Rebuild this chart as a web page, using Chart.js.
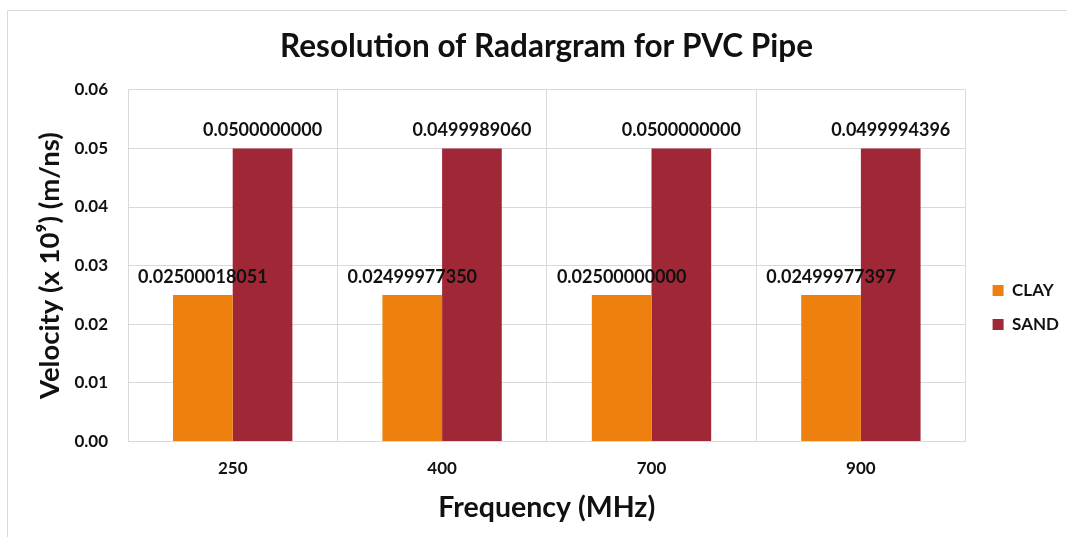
<!DOCTYPE html>
<html>
<head>
<meta charset="utf-8">
<script src="https://cdn.jsdelivr.net/npm/chart.js@4/dist/chart.umd.min.js"></script>
<style>
html,body{margin:0;padding:0;background:#fff;}
#wrap{position:relative;width:1067px;height:537px;}
</style>
</head>
<body>
<div id="wrap"><canvas id="c" width="1067" height="537"></canvas></div>
<script>
const categories = ['250', '400', '700', '900'];
const clayValues = [0.02500018051, 0.02499977350, 0.02500000000, 0.02499977397];
const sandValues = [0.0500000000, 0.0499989060, 0.0500000000, 0.0499994396];
const clayDecimals = 11;
const sandDecimals = 10;
const yTicks = [0, 0.01, 0.02, 0.03, 0.04, 0.05, 0.06];

const FONT = 'Lato, "Open Sans", sans-serif';

const borderPlugin = {
  id: 'frame',
  beforeDraw(chart) {
    const ctx = chart.ctx;
    ctx.save();
    ctx.fillStyle = '#fff';
    ctx.fillRect(0, 0, chart.width, chart.height);
    ctx.strokeStyle = '#d9d9d9';
    ctx.lineWidth = 1;
    ctx.beginPath();
    ctx.moveTo(7.5, chart.height);
    ctx.lineTo(7.5, 10.5);
    ctx.lineTo(chart.width, 10.5);
    ctx.stroke();
    ctx.restore();
  }
};

const legendShift = {
  id: 'legendShift',
  afterLayout(chart) {
    const lg = chart.legend;
    if (lg) { lg.left += 10; lg.right += 10; }
  }
};

const labelPlugin = {
  id: 'valueLabels',
  afterDatasetsDraw(chart) {
    const ctx = chart.ctx;
    ctx.save();
    ctx.font = 'bold 18px ' + FONT;
    ctx.fillStyle = '#111';
    ctx.textAlign = 'center';
    ctx.textBaseline = 'alphabetic';
    chart.data.datasets.forEach((ds, i) => {
      const meta = chart.getDatasetMeta(i);
      meta.data.forEach((bar, j) => {
        ctx.fillText(ds.data[j].toFixed(ds.decimals), bar.x, bar.y - 12);
      });
    });
    ctx.restore();
  }
};

new Chart(document.getElementById('c'), {
  type: 'bar',
  data: {
    labels: categories,
    datasets: [
      { label: 'CLAY', data: clayValues, decimals: clayDecimals, backgroundColor: '#ee800f', borderWidth: 0 },
      { label: 'SAND', data: sandValues, decimals: sandDecimals, backgroundColor: '#a02736', borderWidth: 0 }
    ]
  },
  options: {
    responsive: false,
    animation: false,
    devicePixelRatio: 1,
    layout: { padding: { top: 28, left: 34, right: 8, bottom: 12 } },
    datasets: { bar: { categoryPercentage: 0.57, barPercentage: 1.0 } },
    plugins: {
      title: {
        display: true,
        text: 'Resolution of Radargram for PVC Pipe',
        font: { family: FONT, size: 31.5, weight: 'bold' },
        color: '#111',
        padding: { top: 0, bottom: 24 }
      },
      legend: {
        position: 'right',
        labels: {
          font: { family: FONT, size: 17, weight: 'bold' },
          color: '#111',
          boxWidth: 11,
          boxHeight: 11,
          padding: 17
        },
        title: { display: true, text: ' ', font: { size: 10 }, padding: { top: 50, bottom: 0 } }
      },
      tooltip: { enabled: false }
    },
    scales: {
      x: {
        grid: { color: '#d9d9d9', offset: true, drawTicks: false },
        border: { color: '#d9d9d9' },
        ticks: { font: { family: FONT, size: 17, weight: 'bold' }, color: '#111', padding: 17 },
        title: {
          display: true,
          text: 'Frequency (MHz)',
          font: { family: FONT, size: 28.5, weight: 'bold' },
          color: '#111',
          padding: { top: -5, bottom: 0 }
        }
      },
      y: {
        min: 0,
        max: 0.06,
        afterBuildTicks(axis) { axis.ticks = yTicks.map(v => ({ value: v })); },
        afterFit(axis) { axis.width = 94; },
        grid: { color: '#d9d9d9', drawTicks: false },
        border: { color: '#d9d9d9' },
        ticks: {
          font: { family: FONT, size: 17, weight: 'bold' },
          color: '#111',
          padding: 20,
          callback: v => Number(v).toFixed(2)
        },
        title: {
          display: true,
          text: 'Velocity (x 10\u2079) (m/ns)',
          font: { family: FONT, size: 27.5, weight: 'bold' },
          color: '#111',
          padding: { top: 0, bottom: 4 }
        }
      }
    }
  },
  plugins: [borderPlugin, legendShift, labelPlugin]
});
</script>
</body>
</html>
